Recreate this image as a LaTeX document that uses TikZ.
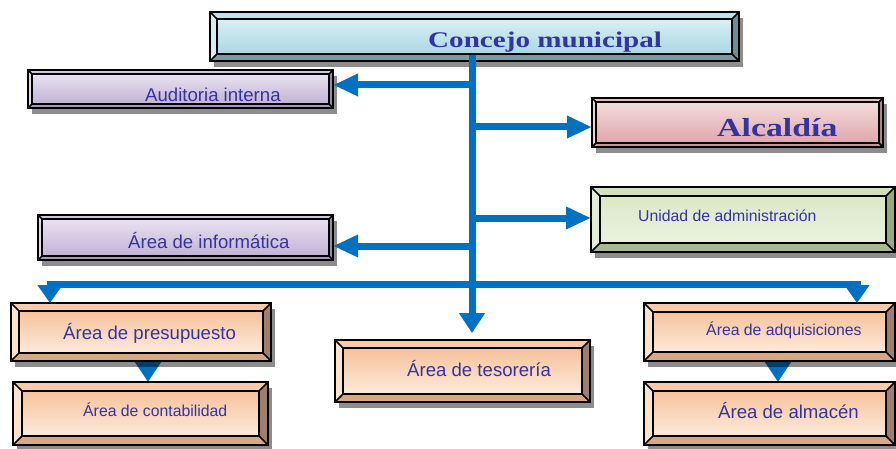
\documentclass[tikz,border=0pt]{standalone}
\usepackage{fontspec}
\setmainfont{Liberation Sans}
\newfontfamily\serifb{Liberation Serif}[FakeStretch=1.3]
\usetikzlibrary{arrows.meta,shadows,calc}
\pgfdeclarelayer{background}
\pgfsetlayers{background,main}
% colour schemes: T top bevel, L left, R right, B bottom, F1 face top, F2 face bottom
\definecolor{cyT}{HTML}{BFE2EA}\definecolor{cyL}{HTML}{D6EDF2}\definecolor{cyR}{HTML}{6C8F97}\definecolor{cyB}{HTML}{7C9AA1}
\definecolor{cyF1}{HTML}{DAEFF4}\definecolor{cyF2}{HTML}{A9D7E3}
\definecolor{lvT}{HTML}{D2C6E0}\definecolor{lvL}{HTML}{E2DAEC}\definecolor{lvR}{HTML}{9888AA}\definecolor{lvB}{HTML}{A898B8}
\definecolor{lvF1}{HTML}{E8E2F0}\definecolor{lvF2}{HTML}{C2B2D6}
\definecolor{pkT}{HTML}{E8BCBC}\definecolor{pkL}{HTML}{F0D2D2}\definecolor{pkR}{HTML}{B08888}\definecolor{pkB}{HTML}{C09898}
\definecolor{pkF1}{HTML}{F3DCDC}\definecolor{pkF2}{HTML}{DFA6AA}
\definecolor{grT}{HTML}{D2E1BA}\definecolor{grL}{HTML}{E4EED4}\definecolor{grR}{HTML}{98A880}\definecolor{grB}{HTML}{A8B890}
\definecolor{grF1}{HTML}{DCE8C8}\definecolor{grF2}{HTML}{EAF2DE}
\definecolor{peT}{HTML}{F8CCAA}\definecolor{peL}{HTML}{FDE2CC}\definecolor{peR}{HTML}{9E7E6C}\definecolor{peB}{HTML}{D8A884}
\definecolor{peF1}{HTML}{F7C29A}\definecolor{peF2}{HTML}{FDEADC}
\definecolor{linkblue}{HTML}{0070C0}
\definecolor{tblue}{RGB}{52,52,158}
\newcommand\fbig{\fontsize{18.6}{22}\selectfont}
\newcommand\fsmall{\fontsize{15.8}{19}\selectfont}
\tikzset{
  bevinset/.code={\def\bevin{#1}},
  scheme/.code={\colorlet{bvT}{#1T}\colorlet{bvL}{#1L}\colorlet{bvR}{#1R}\colorlet{bvB}{#1B}\colorlet{bvFa}{#1F1}\colorlet{bvFb}{#1F2}},
  bevbox/.style={rectangle, draw=black, line width=2pt, inner sep=0pt, outer sep=0pt, anchor=north west,
    drop shadow={shadow xshift=4pt, shadow yshift=-6pt, fill=black, opacity=0.45},
    path picture={
      \path (path picture bounding box.north west) coordinate (pA)
            (path picture bounding box.north east) coordinate (pB)
            (path picture bounding box.south east) coordinate (pC)
            (path picture bounding box.south west) coordinate (pD);
      \path ([xshift=\bevin pt,yshift=-\bevin pt]pA) coordinate (qA)
            ([xshift=-\bevin pt,yshift=-\bevin pt]pB) coordinate (qB)
            ([xshift=-\bevin pt,yshift=\bevin pt]pC) coordinate (qC)
            ([xshift=\bevin pt,yshift=\bevin pt]pD) coordinate (qD);
      \fill[bvT] (pA)--(pB)--(qB)--(qA)--cycle;
      \fill[bvL] (pA)--(qA)--(qD)--(pD)--cycle;
      \fill[bvR] (pB)--(qB)--(qC)--(pC)--cycle;
      \fill[bvB] (pD)--(qD)--(qC)--(pC)--cycle;
      \shade[top color=bvFa, bottom color=bvFb] (qA) rectangle (qC);
      \draw[line width=1.7pt] (qA) rectangle (qC) (pA)--(qA) (pB)--(qB) (pC)--(qC) (pD)--(qD);
    }},
  tlab/.style={anchor=base west, inner sep=0pt, text=tblue},
  conn/.style={draw=linkblue, line width=7pt},
  tipH/.style={-{Triangle[length=25pt,width=21pt]}},
  tipV/.style={-{Triangle[length=20pt,width=25pt]}},
  tipD/.style={-{Triangle[length=18pt,width=24pt]}},
  tipS/.style={-{Triangle[length=20pt,width=25pt]}}
}
\begin{document}
\begin{tikzpicture}[x=1pt,y=-1pt]
\useasboundingbox (0,0) rectangle (896,449);
% boxes
\node[bevbox, scheme=cy, bevinset=7, minimum width=529pt, minimum height=49pt] (conc) at (210,12) {};
\node[bevbox, scheme=lv, bevinset=4, minimum width=305pt, minimum height=38pt] (aud) at (28,70) {};
\node[bevbox, scheme=pk, bevinset=4, minimum width=291pt, minimum height=49pt] (alc) at (592,98) {};
\node[bevbox, scheme=gr, bevinset=9, minimum width=304pt, minimum height=65pt] (uni) at (591,187) {};
\node[bevbox, scheme=lv, bevinset=4, minimum width=295pt, minimum height=45pt] (inf) at (38,215) {};
\node[bevbox, scheme=pe, bevinset=8, minimum width=260pt, minimum height=58pt] (pres) at (11,303) {};
\node[bevbox, scheme=pe, bevinset=9, minimum width=255pt, minimum height=63pt] (cont) at (13,382) {};
\node[bevbox, scheme=pe, bevinset=8, minimum width=255pt, minimum height=62pt] (tes) at (335,340) {};
\node[bevbox, scheme=pe, bevinset=9, minimum width=251pt, minimum height=58pt] (adq) at (644,303) {};
\node[bevbox, scheme=pe, bevinset=9, minimum width=251pt, minimum height=63pt] (alm) at (644,382) {};
% texts
\node[tlab, font=\serifb\bfseries\fontsize{22.4}{26}\selectfont] (tconc) at (428,48) {Concejo municipal};
\node[tlab, font=\fbig] (taud) at (145,102) {Auditoria interna};
\node[tlab, font=\serifb\bfseries\fontsize{26}{30}\selectfont] (talc) at (717,137) {Alcaldía};
\node[tlab, font=\fsmall] (tuni) at (638,221.5) {Unidad de administración};
\node[tlab, font=\fbig] (tinf) at (128,248) {Área de informática};
\node[tlab, font=\fbig] (tpres) at (63,339) {Área de presupuesto};
\node[tlab, font=\fsmall] (tcont) at (83,416.5) {Área de contabilidad};
\node[tlab, font=\fbig] (ttes) at (407,376.5) {Área de tesorería};
\node[tlab, font=\fsmall] (tadq) at (706,335.5) {Área de adquisiciones};
\node[tlab, font=\fbig] (talm) at (718,418) {Área de almacén};
% connector coordinates
\coordinate (tk) at (472,55);
\coordinate (jA) at (472,85);
\coordinate (jB) at (472,127);
\coordinate (jC) at (472,218);
\coordinate (jD) at (472,246);
\coordinate (jH) at (472,284);
\coordinate (hL) at (50,284);
\coordinate (hR) at (857,284);
\coordinate (sL) at (148,0);
\coordinate (sR) at (778,0);
% connectors
\draw[conn, tipV] (tk) -- ([yshift=7pt]tk |- tes.north);
\draw[conn, tipH] (jA) -- (jA -| aud.east);
\draw[conn, tipH] (jB) -- (jB -| alc.west);
\draw[conn, tipH] (jC) -- (jC -| uni.west);
\draw[conn, tipH] (jD) -- (jD -| inf.east);
\draw[conn, tipD] (jH) -| (hL |- pres.north);
\draw[conn, tipD] (jH) -| (hR |- adq.north);
\begin{pgfonlayer}{background}
\draw[conn, tipS] (sL |- pres.south) -- (sL |- cont.north);
\draw[conn, tipS] (sR |- adq.south) -- (sR |- alm.north);
\end{pgfonlayer}
\end{tikzpicture}
\end{document}
